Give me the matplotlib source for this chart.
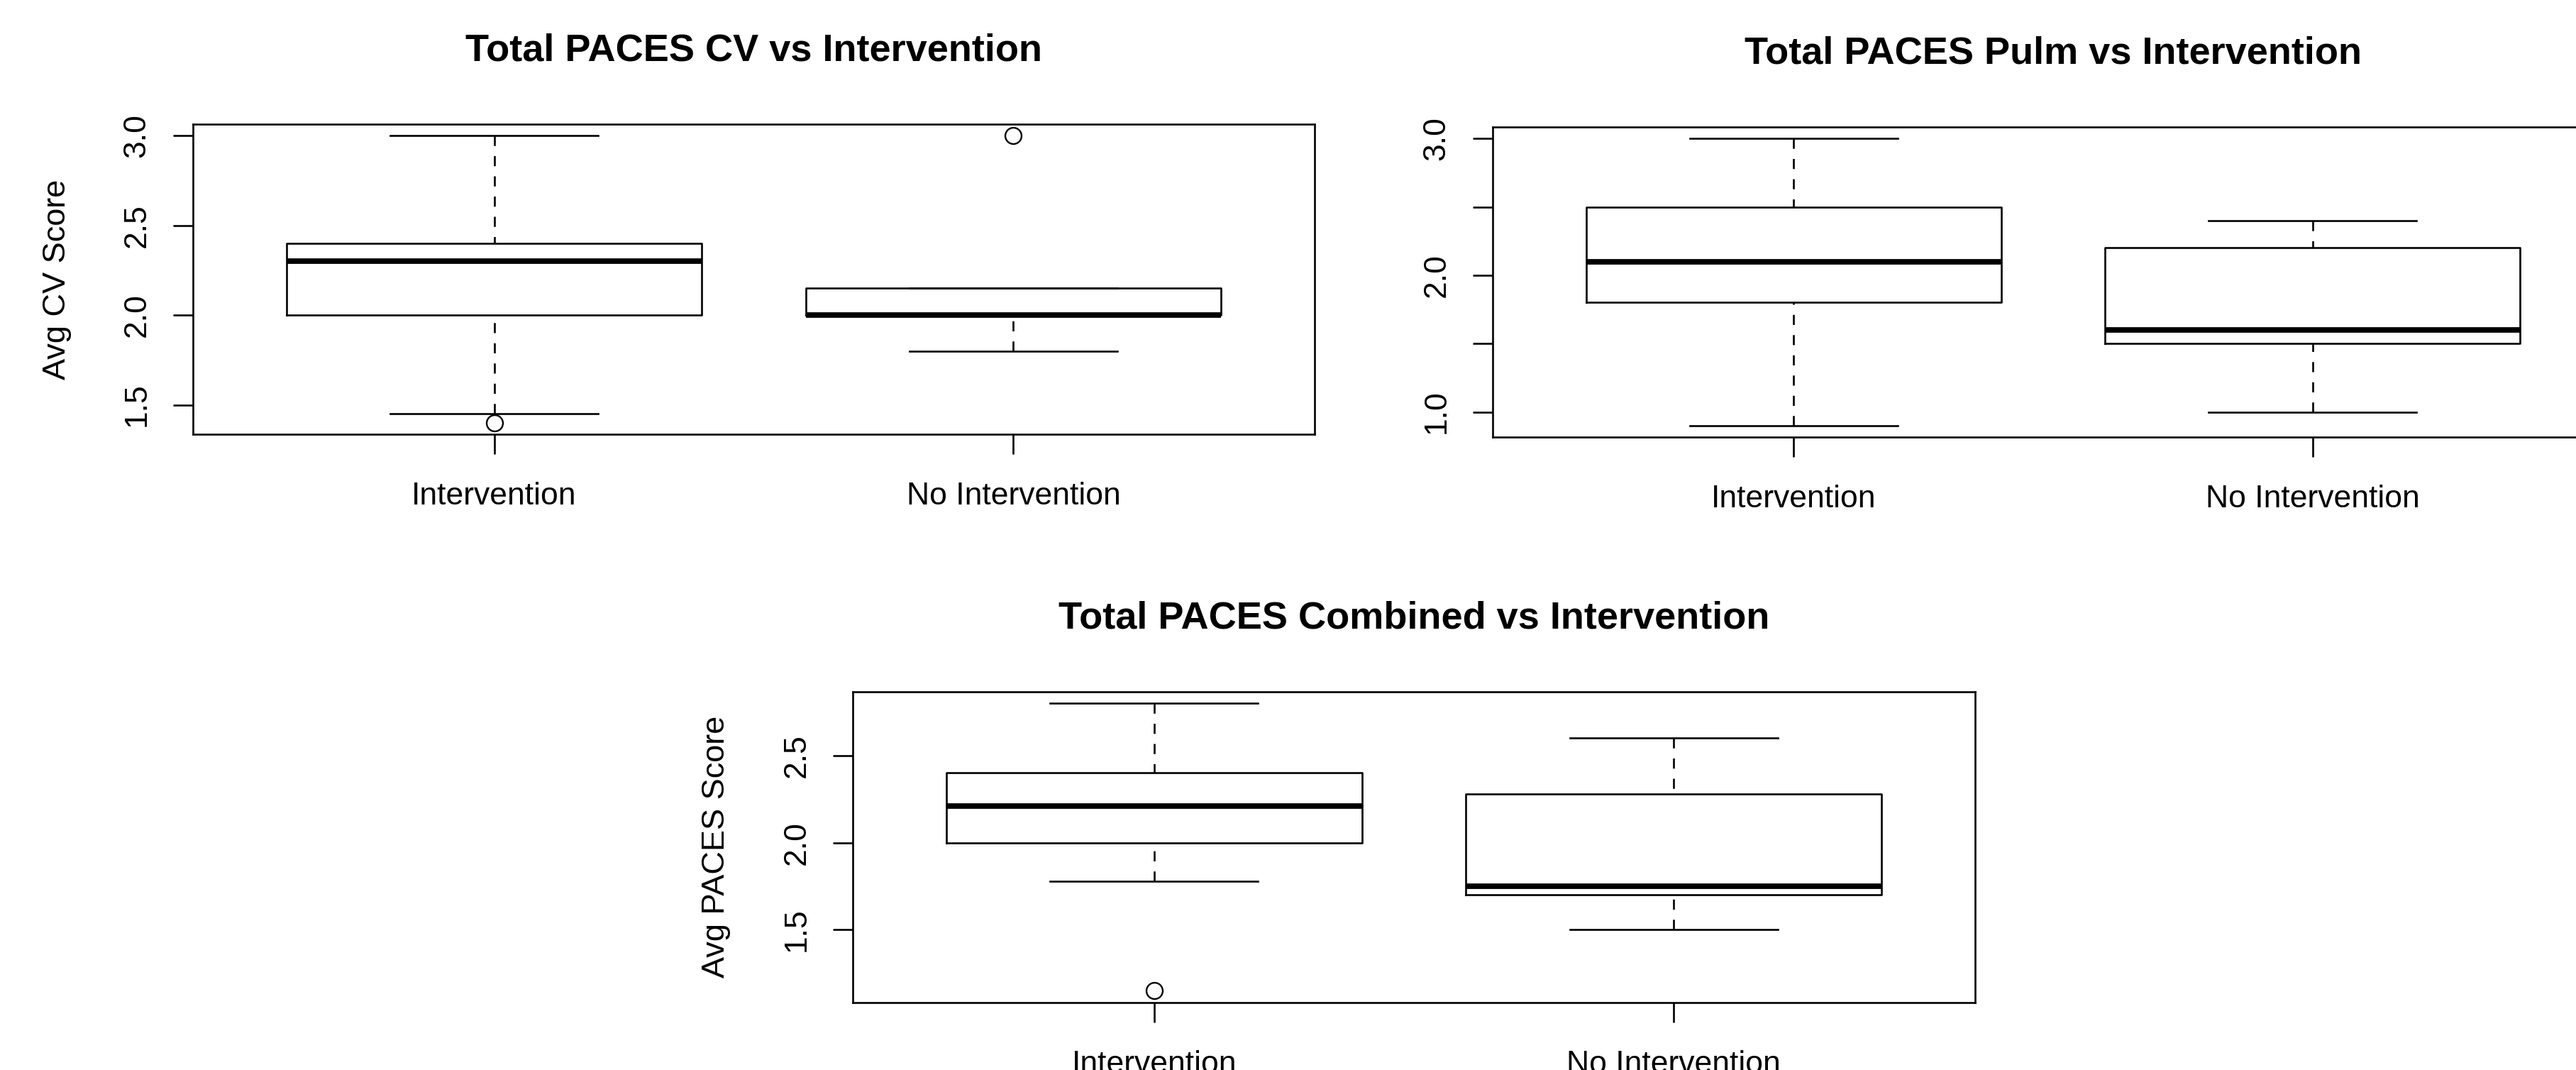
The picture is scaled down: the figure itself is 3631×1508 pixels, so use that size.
import matplotlib
matplotlib.use("Agg")
import matplotlib.pyplot as plt

plt.rcParams['font.family'] = ['Liberation Sans', 'DejaVu Sans']

# ---------------- data ----------------
groups = ["Intervention", "No Intervention"]

cv_whislo = [1.45, 1.80]
cv_q1 = [2.00, 2.00]
cv_med = [2.30, 2.00]
cv_q3 = [2.40, 2.15]
cv_whishi = [3.00, 2.15]
cv_fliers = [[1.40], [3.00]]
cv_yticks = [1.5, 2.0, 2.5, 3.0]
cv_ylabels = ["1.5", "2.0", "2.5", "3.0"]

pulm_whislo = [0.90, 1.00]
pulm_q1 = [1.80, 1.50]
pulm_med = [2.10, 1.60]
pulm_q3 = [2.50, 2.20]
pulm_whishi = [3.00, 2.40]
pulm_fliers = [[], []]
pulm_yticks = [1.0, 1.5, 2.0, 2.5, 3.0]
pulm_ylabels = ["1.0", "", "2.0", "", "3.0"]

comb_whislo = [1.78, 1.50]
comb_q1 = [2.00, 1.70]
comb_med = [2.21, 1.75]
comb_q3 = [2.40, 2.28]
comb_whishi = [2.80, 2.60]
comb_fliers = [[1.15], []]
comb_yticks = [1.5, 2.0, 2.5]
comb_ylabels = ["1.5", "2.0", "2.5"]

titles = ["Total PACES CV vs Intervention",
          "Total PACES Pulm vs Intervention",
          "Total PACES Combined vs Intervention"]
ylabels = ["Avg CV Score", "", "Avg PACES Score"]

# ---------------- figure ----------------
W, H, DPI = 3631, 1508, 100
fig = plt.figure(figsize=(W / DPI, H / DPI), dpi=DPI)
fig.patch.set_facecolor("white")

# axes rectangles in pixels: left, top, right, bottom
rects_px = [(272, 175, 1853, 612),
            (2104, 179, 3684, 616),
            (1202, 975, 2784, 1412.6)]

LW = 1.9
TICKFS = 32
TITLEFS = 39


def make_stats(whislo, q1, med, q3, whishi, fliers):
    out = []
    for i in range(len(q1)):
        out.append(dict(whislo=whislo[i], q1=q1[i], med=med[i], q3=q3[i],
                        whishi=whishi[i], fliers=fliers[i], label=groups[i]))
    return out


panels = [
    (make_stats(cv_whislo, cv_q1, cv_med, cv_q3, cv_whishi, cv_fliers), cv_yticks, cv_ylabels),
    (make_stats(pulm_whislo, pulm_q1, pulm_med, pulm_q3, pulm_whishi, pulm_fliers), pulm_yticks, pulm_ylabels),
    (make_stats(comb_whislo, comb_q1, comb_med, comb_q3, comb_whishi, comb_fliers), comb_yticks, comb_ylabels),
]

for k, ((stats, yt, ytl), (l, t, r, b)) in enumerate(zip(panels, rects_px)):
    ax = fig.add_axes([l / W, 1 - b / H, (r - l) / W, (b - t) / H])
    positions = list(range(1, len(stats) + 1))
    art = ax.bxp(stats, positions=positions, widths=0.8, capwidths=0.4,
                 patch_artist=False, manage_ticks=False,
                 boxprops=dict(color="black", linewidth=LW),
                 whiskerprops=dict(color="black", linewidth=LW, linestyle=(0, (5.4, 5.4))),
                 capprops=dict(color="black", linewidth=LW),
                 medianprops=dict(color="black", linewidth=5.6, solid_capstyle="butt"),
                 flierprops=dict(marker="o", markerfacecolor="none", markeredgecolor="black",
                                 markersize=16.5, markeredgewidth=1.7, linestyle="none"))
    # R draws whiskers starting from the whisker end
    for w in art["whiskers"]:
        w.set_ydata(list(w.get_ydata())[::-1])

    # R-style limits: 4% extension of data range
    lo = min(min(s["whislo"] for s in stats),
             min([min(s["fliers"]) for s in stats if len(s["fliers"])] or [1e9]))
    hi = max(max(s["whishi"] for s in stats),
             max([max(s["fliers"]) for s in stats if len(s["fliers"])] or [-1e9]))
    ext = 0.04 * (hi - lo)
    ax.set_ylim(lo - ext, hi + ext)
    ext_x = 0.04 * (positions[-1] - positions[0] + 1)
    ax.set_xlim(positions[0] - 0.5 - ext_x, positions[-1] + 0.5 + ext_x)

    ax.set_xticks(positions)
    ax.set_xticklabels(groups, fontsize=TICKFS)
    ax.set_yticks(yt)
    ax.set_yticklabels(ytl, fontsize=TICKFS, rotation=90, va="center")

    ax.tick_params(axis="x", direction="out", length=20, width=LW, pad=28.5)
    ax.tick_params(axis="y", direction="out", length=20, width=LW, pad=22)
    for sp in ax.spines.values():
        sp.set_linewidth(LW)
        sp.set_color("black")

    ax_h = b - t
    ax.text(0.5, 1 + 90 / ax_h, titles[k], transform=ax.transAxes,
            ha="center", va="baseline", fontsize=TITLEFS, fontweight="bold")

    if ylabels[k]:
        ax.set_ylabel(ylabels[k], fontsize=32.5, va="center")
        ax.yaxis.set_label_coords(-192 / (r - l), 0.5)

fig.savefig("out.png", dpi=DPI, facecolor="white")
